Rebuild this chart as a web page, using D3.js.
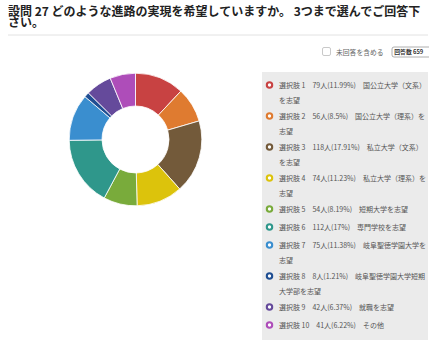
<!DOCTYPE html>
<html><head><meta charset="utf-8">
<script src="https://cdn.jsdelivr.net/npm/d3@7"></script>
<style>
html,body{margin:0;padding:0;background:#fff;}
svg{display:block;font-family:"Noto Sans CJK JP","Noto Sans",sans-serif;}
</style></head>
<body>
<svg id="chart" width="429" height="345"></svg>
<script>
const titleLines = ["設問 27 どのような進路の実現を希望していますか。 3つまで選んでご回答下", "さい。"];
const categories = ["選択肢 1","選択肢 2","選択肢 3","選択肢 4","選択肢 5","選択肢 6","選択肢 7","選択肢 8","選択肢 9","選択肢 10"];
const counts = [79,56,118,74,54,112,75,8,42,41];
const percents = ["11.99","8.5","17.91","11.23","8.19","17","11.38","1.21","6.37","6.22"];
const descriptions = ["国公立大学（文系）を志望","国公立大学（理系）を志望","私立大学（文系）を志望","私立大学（理系）を志望","短期大学を志望","専門学校を志望","岐阜聖徳学園大学を志望","岐阜聖徳学園大学短期大学部を志望","就職を志望","その他"];
const colors = ["#c84242","#df7b30","#735a3a","#dcc30c","#79ab3b","#2f978b","#3a8ecf","#1f4e92","#654a9b","#ae4db9"];
const totalLabel = "回答数 659";
const checkboxLabel = "未回答を含める";

const svg = d3.select("#chart");

// Title
const title = svg.append("text").attr("x", 8).attr("y", 16)
  .attr("font-size", 12).attr("font-weight", "bold").attr("fill", "#222");
titleLines.forEach((t, i) => title.append("tspan").attr("x", 8).attr("dy", i ? 10.5 : 0).text(t));
svg.append("line").attr("x1", 8).attr("x2", 428).attr("y1", 35).attr("y2", 35)
  .attr("stroke", "#e2e2e2").attr("stroke-width", 1);

// Checkbox + button
svg.append("rect").attr("x", 322.5).attr("y", 47.5).attr("width", 8).attr("height", 8)
  .attr("rx", 1.5).attr("fill", "#fff").attr("stroke", "#bbb").attr("stroke-width", 0.8);
svg.append("text").attr("x", 336).attr("y", 54.5).attr("font-size", 6.8).attr("fill", "#666").text(checkboxLabel);
svg.append("rect").attr("x", 392).attr("y", 47).attr("width", 40).attr("height", 10)
  .attr("rx", 2).attr("fill", "#fff").attr("stroke", "#999").attr("stroke-width", 0.8);
svg.append("text").attr("x", 394.3).attr("y", 54.4).attr("font-size", 5.8).attr("font-weight", "bold")
  .attr("fill", "#333").text(totalLabel);

// Donut
const cx = 135.5, cy = 139.5, rOuter = 66.3, rInner = 33.5;
const pie = d3.pie().sort(null).value(d => d)(counts);
const arc = d3.arc().innerRadius(rInner).outerRadius(rOuter);
svg.append("g").attr("transform", `translate(${cx},${cy})`)
  .selectAll("path").data(pie).join("path")
  .attr("d", arc).attr("fill", (d, i) => colors[i])
  .attr("stroke", "#fff").attr("stroke-width", 0.8);

// Legend
const lx = 262, ly = 72, lw = 166, lh = 268;
svg.append("rect").attr("x", lx).attr("y", ly).attr("width", lw).attr("height", lh).attr("fill", "#ebebeb");
const maxW = 149;
const fs = 7;
const g = svg.append("g");
let y = 85;
categories.forEach((c, i) => {
  const full = `${c}　${counts[i]}人(${percents[i]}%)　${descriptions[i]}`;
  const t = g.append("text").attr("x", 279).attr("y", y + 2.5).attr("font-size", fs).attr("fill", "#555");
  const lines = [];
  let cur = "";
  const probe = g.append("text").attr("font-size", fs);
  for (const ch of full) {
    probe.text(cur + ch);
    if (probe.node().getComputedTextLength() > maxW && cur.length) { lines.push(cur); cur = ch; }
    else cur += ch;
  }
  lines.push(cur);
  probe.remove();
  lines.forEach((ln, k) => t.append("tspan").attr("x", 279).attr("dy", k ? 15.5 : 0).text(ln));
  g.append("circle").attr("cx", 269.5).attr("cy", y).attr("r", 2.7)
    .attr("fill", "#fff").attr("stroke", colors[i]).attr("stroke-width", 2.1);
  y += 18 + (lines.length - 1) * 13;
});
</script>
</body></html>
